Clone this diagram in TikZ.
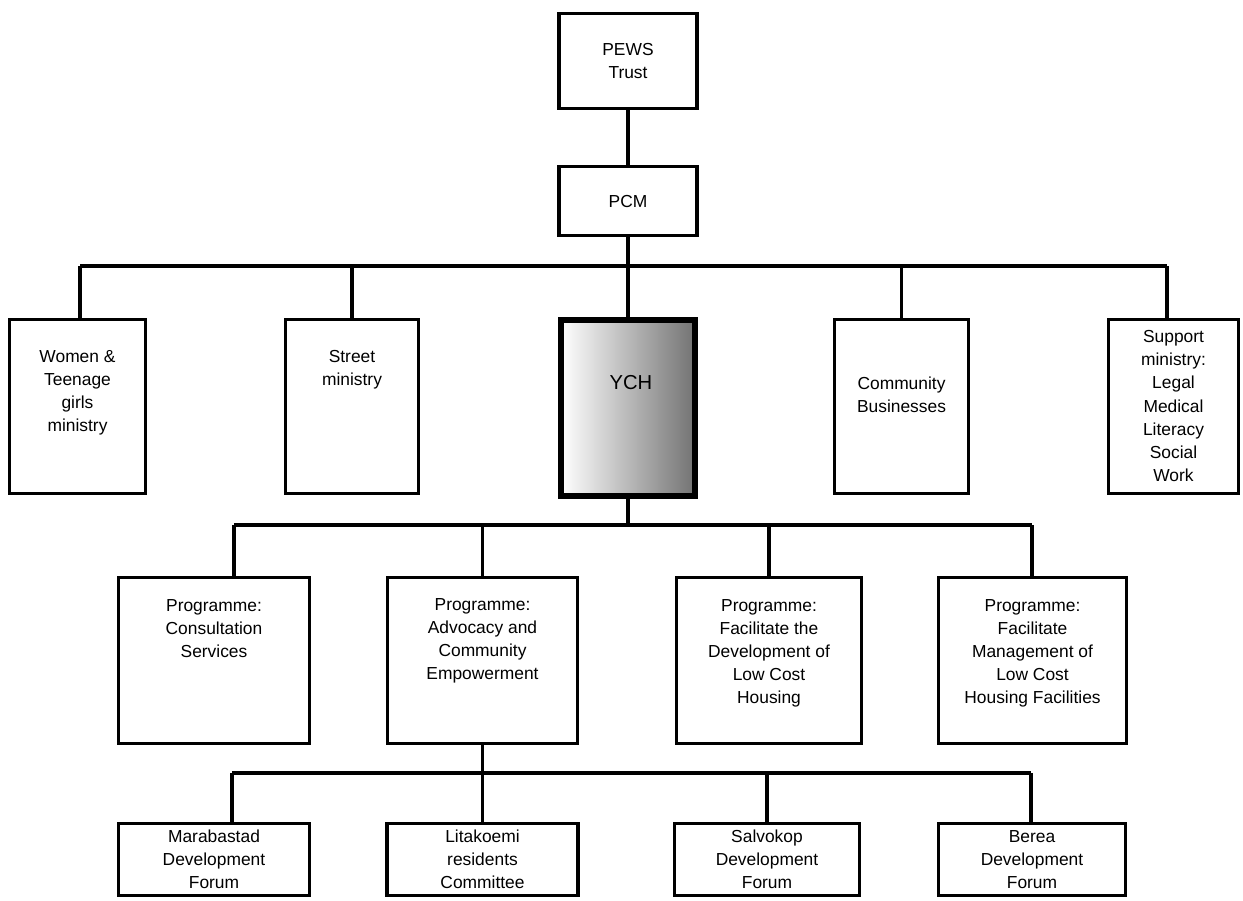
\documentclass[tikz,border=0pt]{standalone}
\usepackage{fontspec}
\setmainfont{Liberation Sans}
\begin{document}
\begin{tikzpicture}[
  box/.style={draw, line width=1.8pt, inner sep=0pt, align=center},
  lbl/.style={align=center, inner sep=0pt},
  every node/.style={font=\fontsize{9.9}{13.1}\selectfont},
  line width=1.8pt]
\useasboundingbox (0,0) rectangle (24.86,-18);

\node[box, minimum width=2.76cm, minimum height=1.90cm] (pews) at (12.56,-1.22) {PEWS\\Trust};
\node[box, minimum width=2.76cm, minimum height=1.38cm] (pcm) at (12.56,-4.02) {PCM};

\node[box, minimum width=2.72cm, minimum height=3.48cm] (women) at (1.55,-8.13) {};
\node[box, minimum width=2.66cm, minimum height=3.48cm] (street) at (7.04,-8.13) {};
\node[box, line width=3.6pt, minimum width=2.68cm, minimum height=3.52cm,
      left color=white, middle color=black!18, right color=black!55] (ych) at (12.56,-8.16) {};
\node[box, minimum width=2.68cm, minimum height=3.48cm] (comm) at (18.03,-8.13) {};
\node[box, minimum width=2.60cm, minimum height=3.48cm] (support) at (23.47,-8.13) {};

\node[lbl] (women-t) at (1.55,-7.86) {Women \&\\Teenage\\girls\\ministry};
\node[lbl] (street-t) at (7.04,-7.40) {Street\\ministry};
\node[lbl, font=\fontsize{11.5}{14}\selectfont] (ych-t) at (12.62,-7.66) {YCH};
\node[lbl] (comm-t) at (18.03,-7.90) {Community\\Businesses};
\node[lbl] (support-t) at (23.47,-8.12) {Support\\ministry:\\Legal\\Medical\\Literacy\\Social\\Work};

\node[box, minimum width=3.82cm, minimum height=3.32cm] (consult) at (4.28,-13.21) {};
\node[box, minimum width=3.80cm, minimum height=3.32cm] (advoc) at (9.65,-13.21) {};
\node[box, minimum width=3.70cm, minimum height=3.32cm] (facdev) at (15.38,-13.21) {};
\node[box, minimum width=3.76cm, minimum height=3.32cm] (facmgmt) at (20.65,-13.21) {};

\node[lbl] (consult-t) at (4.28,-12.58) {Programme:\\Consultation\\Services};
\node[lbl] (advoc-t) at (9.65,-12.82) {Programme:\\Advocacy and\\Community\\Empowerment};
\node[lbl] (facdev-t) at (15.38,-13.06) {Programme:\\Facilitate the\\Development of\\Low Cost\\Housing};
\node[lbl] (facmgmt-t) at (20.65,-13.06) {Programme:\\Facilitate\\Management of\\Low Cost\\Housing Facilities};

\node[box, minimum width=3.82cm, minimum height=1.44cm] (mara) at (4.28,-17.19) {Marabastad\\Development\\Forum};
\node[box, minimum width=3.82cm, minimum height=1.44cm] (lita) at (9.65,-17.19) {Litakoemi\\residents\\Committee};
\node[box, minimum width=3.70cm, minimum height=1.44cm] (salvo) at (15.34,-17.19) {Salvokop\\Development\\Forum};
\node[box, minimum width=3.74cm, minimum height=1.44cm] (berea) at (20.64,-17.19) {Berea\\Development\\Forum};

\coordinate (b1l) at (1.60,-5.32);
\coordinate (b1r) at (23.34,-5.32);
\coordinate (b2l) at (4.68,-10.50);
\coordinate (b2r) at (20.64,-10.50);
\coordinate (b3l) at (4.64,-15.46);
\coordinate (b3r) at (20.62,-15.46);

\draw (pews) -- (pcm);
\draw (pcm.south) -- (pcm.south |- b1l);
\draw (b1l) -- (b1r);
\draw (b1l) -- (b1l |- women.north);
\draw (street.north) -- (street.north |- b1l);
\draw (ych.north) -- (ych.north |- b1l);
\draw (comm.north) -- (comm.north |- b1l);
\draw (b1r) -- (b1r |- support.north);

\draw (ych.south) -- (ych.south |- b2l);
\draw (b2l) -- (b2r);
\draw (b2l) -- (b2l |- consult.north);
\draw (advoc.north) -- (advoc.north |- b2l);
\draw (facdev.north) -- (facdev.north |- b2l);
\draw (b2r) -- (b2r |- facmgmt.north);

\draw (advoc.south) -- (advoc.south |- b3l);
\draw (b3l) -- (b3r);
\draw (b3l) -- (b3l |- mara.north);
\draw (lita.north) -- (lita.north |- b3l);
\draw (salvo.north) -- (salvo.north |- b3l);
\draw (b3r) -- (b3r |- berea.north);
\end{tikzpicture}
\end{document}
